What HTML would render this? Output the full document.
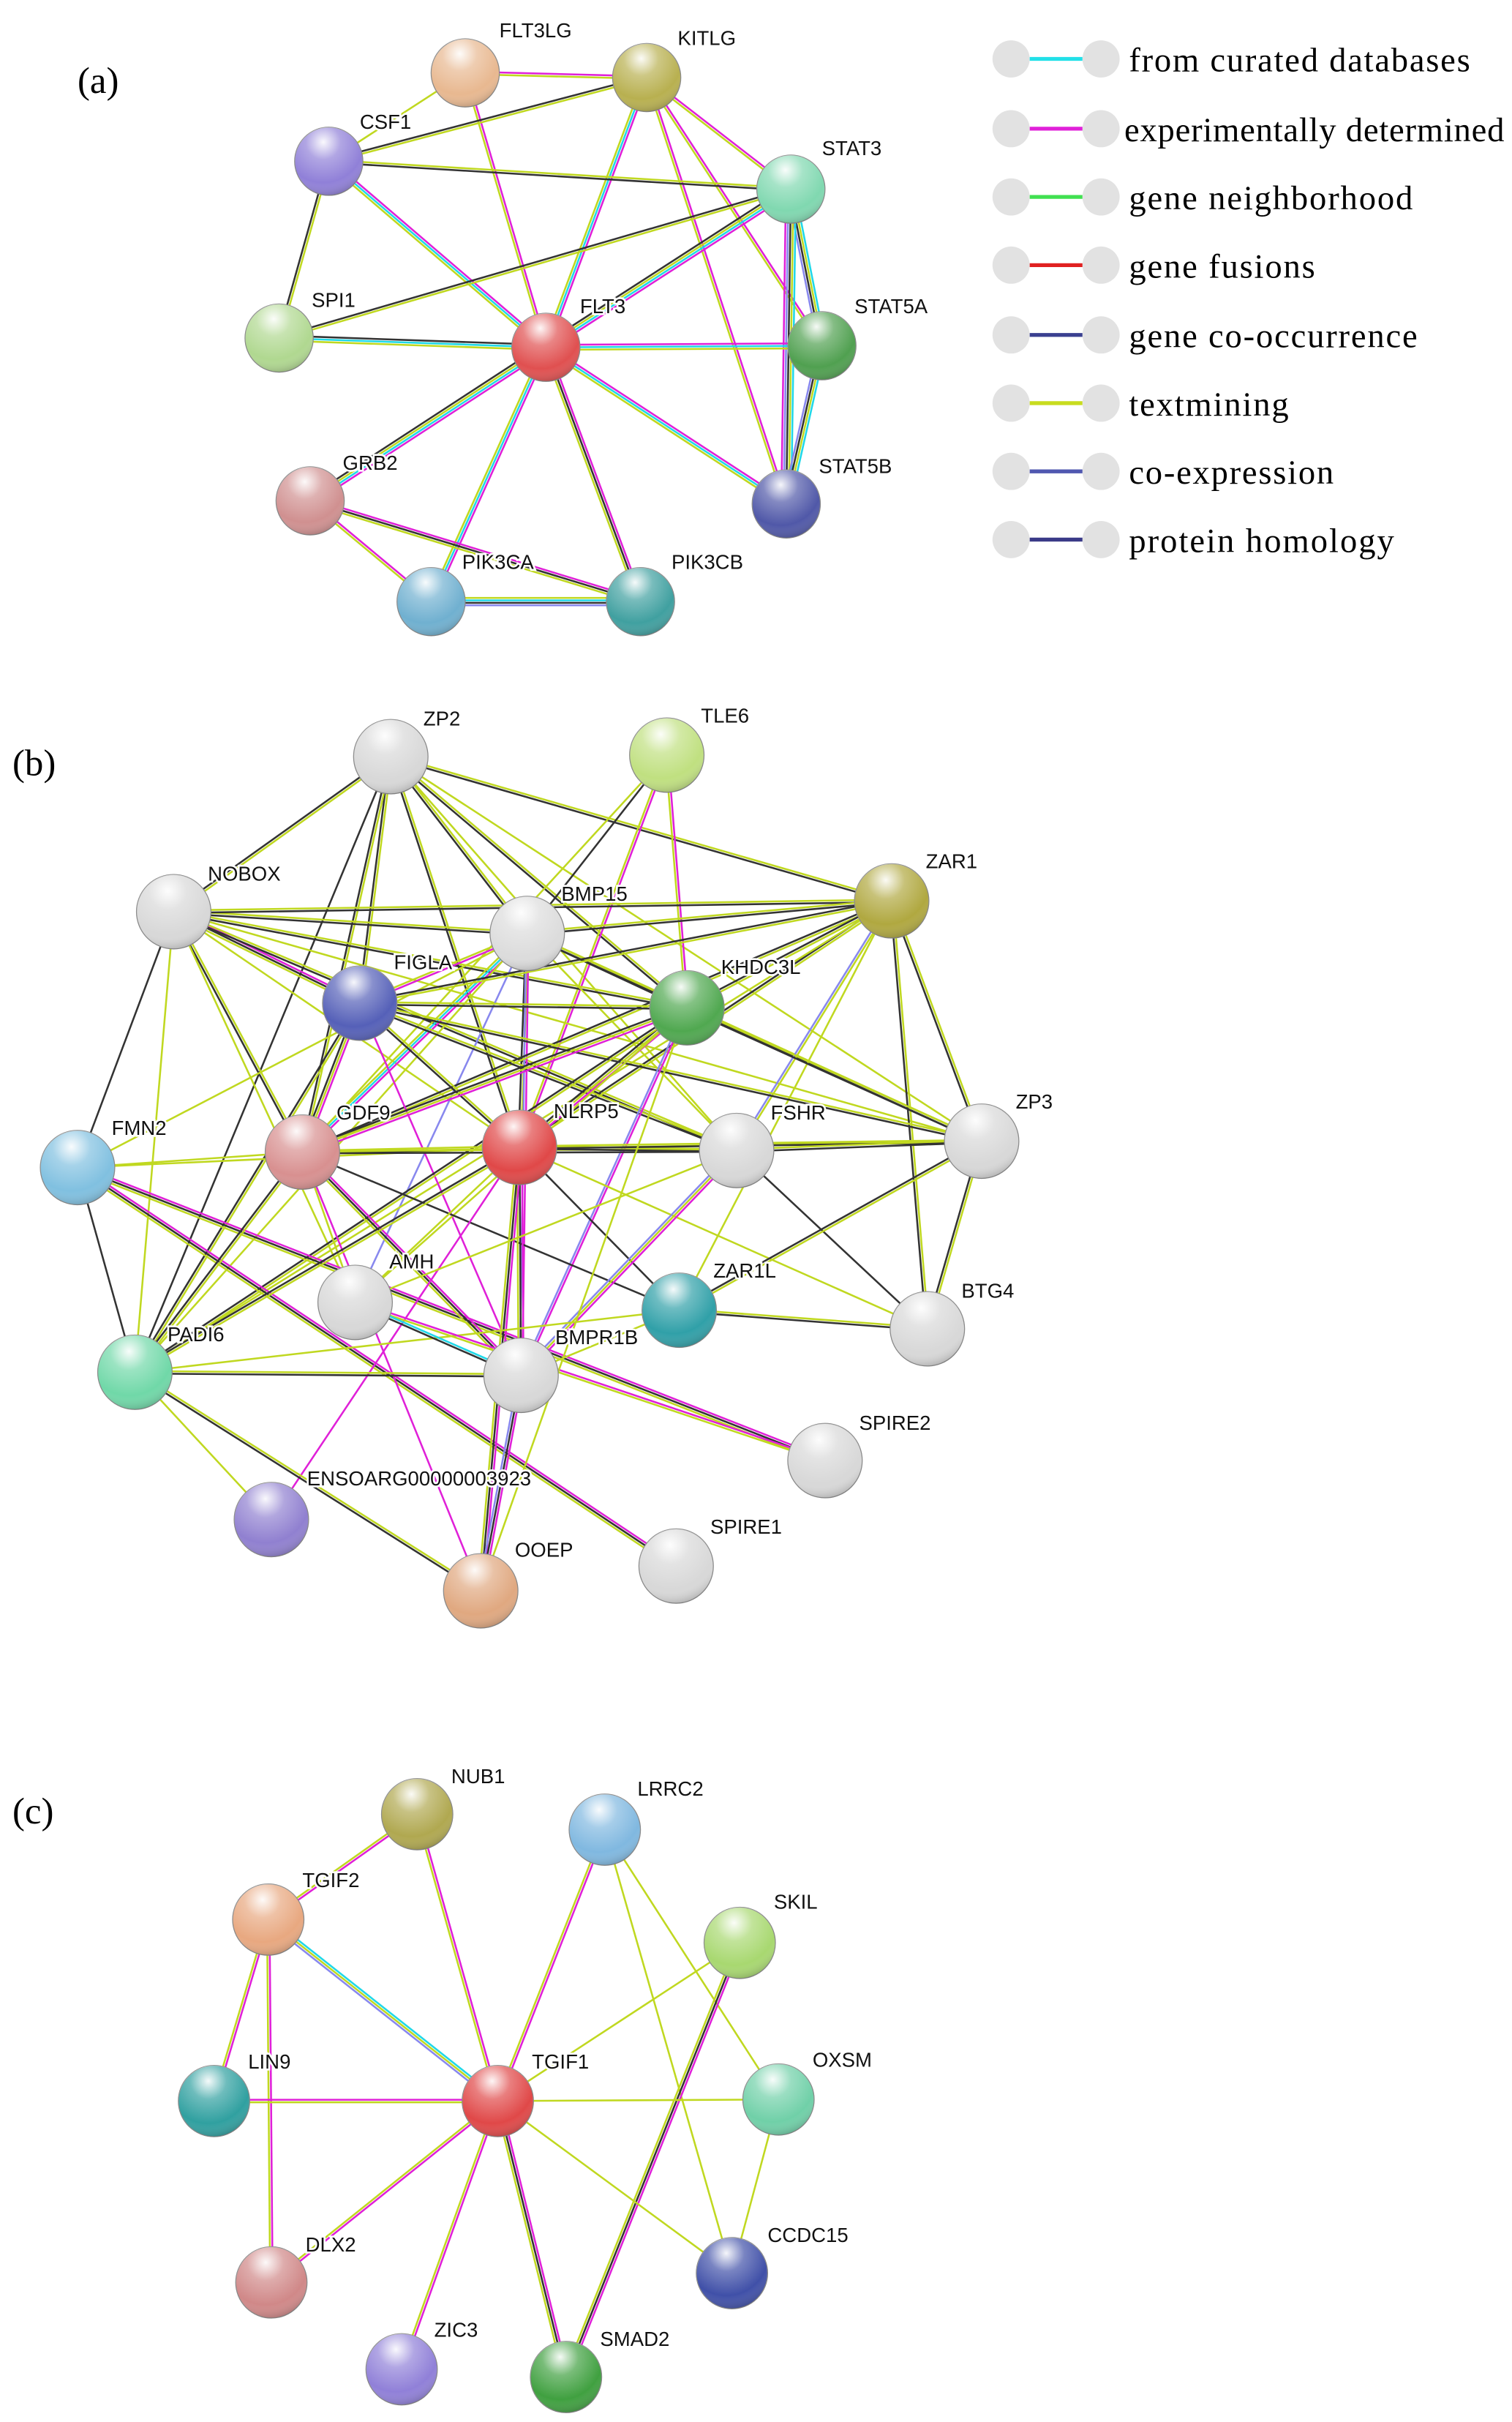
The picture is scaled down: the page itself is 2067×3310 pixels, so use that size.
<!DOCTYPE html>
<html><head><meta charset="utf-8">
<style>
html,body{margin:0;padding:0;background:#fff;}
svg{display:block;}
.l{font-family:"Liberation Sans",sans-serif;font-size:13px;fill:#111;paint-order:stroke;stroke:#fff;stroke-width:2.5px;}
.p{font-family:"Liberation Serif",serif;font-size:24px;fill:#000;}
.g{font-family:"Liberation Serif",serif;font-size:22px;fill:#000;}
</style></head><body>
<svg id="s" width="2067" height="3310" viewBox="0 0 975 1562" preserveAspectRatio="none" xmlns="http://www.w3.org/2000/svg">
<defs>
<radialGradient id="sh" cx="0.42" cy="0.22" r="0.85">
<stop offset="0" stop-color="#fff" stop-opacity="0.95"/>
<stop offset="0.3" stop-color="#fff" stop-opacity="0.3"/>
<stop offset="0.7" stop-color="#fff" stop-opacity="0"/>
<stop offset="1" stop-color="#000" stop-opacity="0.3"/>
</radialGradient>
</defs>
<g id="edges"></g>
<g id="nodes"></g>
<text class="p" x="50" y="60">(a)</text>
<text class="p" x="8" y="500">(b)</text>
<text class="p" x="8" y="1176">(c)</text>
<g id="legend">
<circle cx="652" cy="38" r="12" fill="#e2e2e2"/><circle cx="710" cy="38" r="12" fill="#e2e2e2"/><line x1="664" y1="38" x2="698" y2="38" stroke="#22e0e8" stroke-width="2.5"/><text class="g" x="728" y="46" textLength="220">from curated databases</text>
<circle cx="652" cy="83" r="12" fill="#e2e2e2"/><circle cx="710" cy="83" r="12" fill="#e2e2e2"/><line x1="664" y1="83" x2="698" y2="83" stroke="#e020d8" stroke-width="2.5"/><text class="g" x="725" y="91" textLength="245">experimentally determined</text>
<circle cx="652" cy="127" r="12" fill="#e2e2e2"/><circle cx="710" cy="127" r="12" fill="#e2e2e2"/><line x1="664" y1="127" x2="698" y2="127" stroke="#40e050" stroke-width="2.5"/><text class="g" x="728" y="135" textLength="183">gene neighborhood</text>
<circle cx="652" cy="171" r="12" fill="#e2e2e2"/><circle cx="710" cy="171" r="12" fill="#e2e2e2"/><line x1="664" y1="171" x2="698" y2="171" stroke="#e02020" stroke-width="2.5"/><text class="g" x="728" y="179" textLength="120">gene fusions</text>
<circle cx="652" cy="216" r="12" fill="#e2e2e2"/><circle cx="710" cy="216" r="12" fill="#e2e2e2"/><line x1="664" y1="216" x2="698" y2="216" stroke="#3a4090" stroke-width="2.5"/><text class="g" x="728" y="224" textLength="186">gene co-occurrence</text>
<circle cx="652" cy="260" r="12" fill="#e2e2e2"/><circle cx="710" cy="260" r="12" fill="#e2e2e2"/><line x1="664" y1="260" x2="698" y2="260" stroke="#c8dc1e" stroke-width="2.5"/><text class="g" x="728" y="268" textLength="103">textmining</text>
<circle cx="652" cy="304" r="12" fill="#e2e2e2"/><circle cx="710" cy="304" r="12" fill="#e2e2e2"/><line x1="664" y1="304" x2="698" y2="304" stroke="#5058b0" stroke-width="2.5"/><text class="g" x="728" y="312" textLength="132">co-expression</text>
<circle cx="652" cy="348" r="12" fill="#e2e2e2"/><circle cx="710" cy="348" r="12" fill="#e2e2e2"/><line x1="664" y1="348" x2="698" y2="348" stroke="#3a3a88" stroke-width="2.5"/><text class="g" x="728" y="356" textLength="171">protein homology</text>
</g>
<g id="labels">
<text class="l" x="322" y="24">FLT3LG</text><text class="l" x="437" y="29">KITLG</text><text class="l" x="232" y="83">CSF1</text><text class="l" x="530" y="100">STAT3</text><text class="l" x="201" y="198">SPI1</text><text class="l" x="374" y="202">FLT3</text><text class="l" x="551" y="202">STAT5A</text><text class="l" x="221" y="303">GRB2</text><text class="l" x="528" y="305">STAT5B</text><text class="l" x="298" y="367">PIK3CA</text><text class="l" x="433" y="367">PIK3CB</text>
<text class="l" x="273" y="468">ZP2</text><text class="l" x="452" y="466">TLE6</text><text class="l" x="134" y="568">NOBOX</text><text class="l" x="362" y="581">BMP15</text><text class="l" x="597" y="560">ZAR1</text><text class="l" x="254" y="625">FIGLA</text><text class="l" x="465" y="628">KHDC3L</text><text class="l" x="72" y="732">FMN2</text><text class="l" x="217" y="722">GDF9</text><text class="l" x="357" y="721">NLRP5</text><text class="l" x="497" y="722">FSHR</text><text class="l" x="655" y="715">ZP3</text><text class="l" x="251" y="818">AMH</text><text class="l" x="460" y="824">ZAR1L</text><text class="l" x="620" y="837">BTG4</text><text class="l" x="108" y="865">PADI6</text><text class="l" x="358" y="867">BMPR1B</text><text class="l" x="554" y="922">SPIRE2</text><text class="l" x="198" y="958">ENSOARG00000003923</text><text class="l" x="332" y="1004">OOEP</text><text class="l" x="458" y="989">SPIRE1</text>
<text class="l" x="291" y="1150">NUB1</text><text class="l" x="411" y="1158">LRRC2</text><text class="l" x="195" y="1217">TGIF2</text><text class="l" x="499" y="1231">SKIL</text><text class="l" x="160" y="1334">LIN9</text><text class="l" x="343" y="1334">TGIF1</text><text class="l" x="524" y="1333">OXSM</text><text class="l" x="495" y="1446">CCDC15</text><text class="l" x="197" y="1452">DLX2</text><text class="l" x="280" y="1507">ZIC3</text><text class="l" x="387" y="1513">SMAD2</text>
</g>
</svg>
<script>
var N={
FLT3LG:[300,47,"#e8b890",22],KITLG:[417,50,"#b8b050",22],CSF1:[212,104,"#9080d8",22],STAT3:[510,122,"#80d8b0",22],SPI1:[180,218,"#b0d890",22],FLT3:[352,224,"#e05050",22],STAT5A:[530,223,"#50a050",22],GRB2:[200,323,"#d09090",22],STAT5B:[507,325,"#5058a8",22],PIK3CA:[278,388,"#70b0d0",22],PIK3CB:[413,388,"#40a0a0",22],
ZP2:[252,488,"#d8d8d8",24],TLE6:[430,487,"#c0e080",24],NOBOX:[112,588,"#d8d8d8",24],BMP15:[340,602,"#dcdcdc",24],ZAR1:[575,581,"#b0a840",24],FIGLA:[232,647,"#5560b8",24],KHDC3L:[443,650,"#50a850",24],FMN2:[50,753,"#80c0e0",24],GDF9:[195,743,"#d89090",24],NLRP5:[335,740,"#e04848",24],FSHR:[475,742,"#d8d8d8",24],ZP3:[633,736,"#d8d8d8",24],AMH:[229,840,"#d8d8d8",24],ZAR1L:[438,845,"#30a0a8",24],BTG4:[598,857,"#d8d8d8",24],PADI6:[87,885,"#70d8a8",24],BMPR1B:[336,887,"#d8d8d8",24],SPIRE2:[532,942,"#d8d8d8",24],ENSOARG:[175,980,"#9080d0",24],OOEP:[310,1026,"#e0a880",24],SPIRE1:[436,1010,"#d8d8d8",24],
NUB1:[269,1170,"#b0a850",23],LRRC2:[390,1180,"#80b8e0",23],TGIF2:[173,1238,"#e8a880",23],SKIL:[477,1253,"#a8d870",23],LIN9:[138,1355,"#30a0a0",23],TGIF1:[321,1355,"#e04848",23],OXSM:[502,1354,"#70d0a8",23],CCDC15:[472,1466,"#4050a8",23],DLX2:[175,1472,"#d08888",23],ZIC3:[259,1528,"#9080d8",23],SMAD2:[365,1533,"#40a040",23]};
var C={m:"#e020d8",c:"#20d8e8",y:"#c0d820",k:"#333",b:"#8888ee"};
var E=[
"FLT3LG KITLG my","FLT3LG CSF1 y","FLT3LG FLT3 my","KITLG CSF1 yk","KITLG FLT3 mcy","KITLG STAT3 my","KITLG STAT5A my","KITLG STAT5B my","CSF1 STAT3 yk","CSF1 FLT3 mcy","CSF1 SPI1 yk","STAT3 SPI1 yk","STAT3 FLT3 mcyk","STAT3 STAT5A cykb","STAT3 STAT5B cykbm","SPI1 FLT3 kcy","FLT3 STAT5A mcy","FLT3 STAT5B mcy","FLT3 GRB2 mcyk","FLT3 PIK3CA mcy","FLT3 PIK3CB mky","STAT5A STAT5B cykb","GRB2 PIK3CA my","GRB2 PIK3CB mky","PIK3CA PIK3CB yckb",
"ZP2 NOBOX yk","ZP2 BMP15 yk","ZP2 FIGLA yk","ZP2 GDF9 yk","ZP2 NLRP5 yk","ZP2 KHDC3L yk","ZP2 ZAR1 yk","ZP2 ZP3 y","ZP2 FSHR y","ZP2 PADI6 k",
"TLE6 BMP15 k","TLE6 NLRP5 my","TLE6 KHDC3L my","TLE6 GDF9 y",
"NOBOX BMP15 yk","NOBOX FIGLA mky","NOBOX GDF9 yk","NOBOX KHDC3L yk","NOBOX ZAR1 yk","NOBOX NLRP5 y","NOBOX FSHR yk","NOBOX ZP3 y","NOBOX AMH y","NOBOX PADI6 y","NOBOX FMN2 k",
"BMP15 FIGLA my","BMP15 GDF9 mcy","BMP15 NLRP5 yk","BMP15 KHDC3L yk","BMP15 ZAR1 yk","BMP15 FSHR y","BMP15 ZP3 yk","BMP15 BMPR1B mb","BMP15 PADI6 y","BMP15 AMH b","BMP15 FMN2 y",
"ZAR1 FIGLA yk","ZAR1 GDF9 yk","ZAR1 NLRP5 yk","ZAR1 KHDC3L yk","ZAR1 FSHR yb","ZAR1 ZP3 yk","ZAR1 BTG4 yk","ZAR1 ZAR1L y","ZAR1 PADI6 y",
"FIGLA GDF9 myk","FIGLA NLRP5 yk","FIGLA KHDC3L yk","FIGLA FSHR yk","FIGLA ZP3 yk","FIGLA PADI6 yk","FIGLA BMPR1B m",
"KHDC3L GDF9 myk","KHDC3L NLRP5 myk","KHDC3L PADI6 yk","KHDC3L ZP3 yk","KHDC3L BMPR1B mb","KHDC3L AMH y",
"FMN2 NLRP5 y","FMN2 GDF9 y","FMN2 SPIRE2 mky","FMN2 SPIRE1 mky","FMN2 PADI6 k",
"GDF9 NLRP5 yk","GDF9 FSHR yk","GDF9 ZP3 y","GDF9 BMPR1B mky","GDF9 AMH y","GDF9 PADI6 yk","GDF9 ZAR1L k","GDF9 OOEP m",
"NLRP5 FSHR yk","NLRP5 ZP3 yk","NLRP5 ZAR1L k","NLRP5 PADI6 yk","NLRP5 BMPR1B mky","NLRP5 OOEP mky","NLRP5 ENSOARG m","NLRP5 AMH y","NLRP5 BTG4 y",
"FSHR ZP3 yk","FSHR BMPR1B myb","FSHR AMH y","FSHR BTG4 k","ZP3 ZAR1L yk","ZP3 BTG4 yk","ZAR1L BTG4 yk","ZAR1L PADI6 y","ZAR1L BMPR1B y","PADI6 OOEP yk","PADI6 BMPR1B yk","PADI6 ENSOARG y","AMH SPIRE2 my","AMH BMPR1B ck","BMPR1B OOEP mkb","KHDC3L OOEP y",
"NUB1 TGIF2 my","NUB1 TGIF1 my","LRRC2 TGIF1 my","LRRC2 OXSM y","LRRC2 CCDC15 y","TGIF2 TGIF1 cyb","TGIF2 LIN9 my","TGIF2 DLX2 my","SKIL TGIF1 y","SKIL SMAD2 mky","LIN9 TGIF1 my","TGIF1 OXSM y","TGIF1 CCDC15 y","TGIF1 DLX2 my","TGIF1 ZIC3 my","TGIF1 SMAD2 mky","OXSM CCDC15 y"];
var ns="http://www.w3.org/2000/svg",eg=document.getElementById("edges"),ng=document.getElementById("nodes");
E.forEach(function(s){var p=s.split(" "),a=N[p[0]],b=N[p[1]],cs=p[2].split("");var dx=b[0]-a[0],dy=b[1]-a[1],L=Math.hypot(dx,dy),ox=-dy/L,oy=dx/L;
cs.forEach(function(c,i){var o=(i-(cs.length-1)/2)*1.6;var l=document.createElementNS(ns,"line");l.setAttribute("x1",a[0]+ox*o);l.setAttribute("y1",a[1]+oy*o);l.setAttribute("x2",b[0]+ox*o);l.setAttribute("y2",b[1]+oy*o);l.setAttribute("stroke",C[c]);l.setAttribute("stroke-width","1.2");eg.appendChild(l);});});
for(var k in N){var n=N[k];var c=document.createElementNS(ns,"circle");c.setAttribute("cx",n[0]);c.setAttribute("cy",n[1]);c.setAttribute("r",n[3]);c.setAttribute("fill",n[2]);c.setAttribute("stroke","#888");c.setAttribute("stroke-width","0.6");ng.appendChild(c);
var h=document.createElementNS(ns,"circle");h.setAttribute("cx",n[0]);h.setAttribute("cy",n[1]);h.setAttribute("r",n[3]);h.setAttribute("fill","url(#sh)");ng.appendChild(h);}
</script>
</body></html>
